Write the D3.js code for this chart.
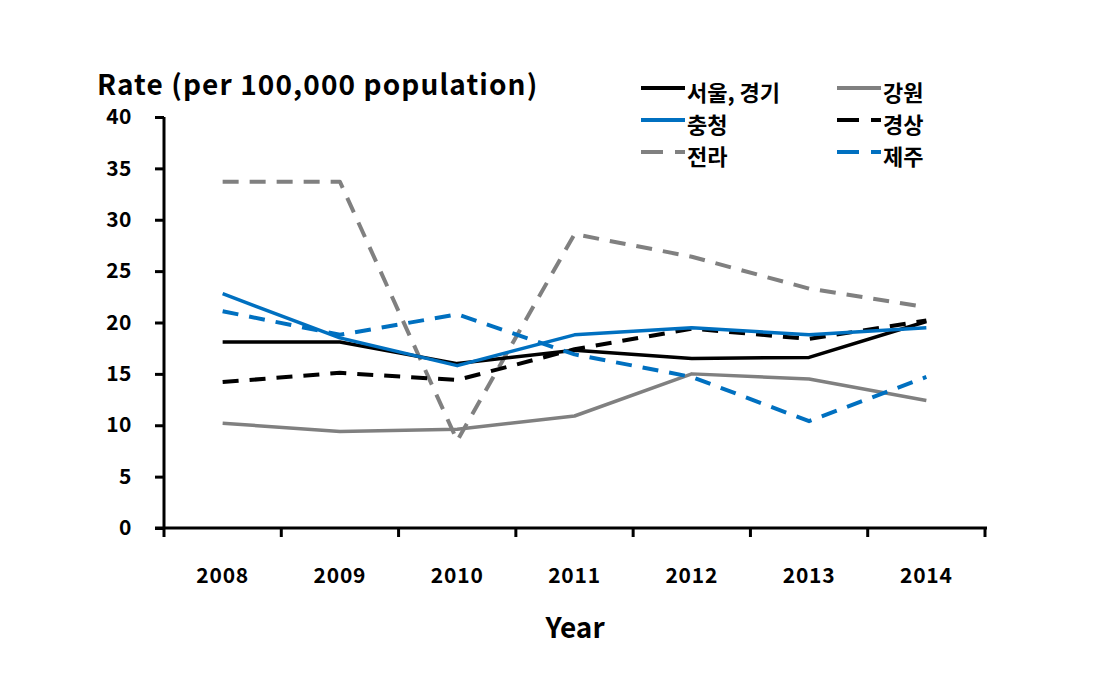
<!DOCTYPE html>
<html><head><meta charset="utf-8">
<script src="https://cdn.jsdelivr.net/npm/d3@7"></script>
<style>body{margin:0;background:#fff}svg{display:block}text{font-family:"Noto Sans CJK KR","Noto Sans",sans-serif;font-weight:bold}</style>
</head><body>
<svg id="c" width="1096" height="678"></svg>
<script>
const years = ["2008","2009","2010","2011","2012","2013","2014"];
const yTicks = [0,5,10,15,20,25,30,35,40];
const seoul   = [18.1,18.1,16.0,17.3,16.5,16.6,20.1];
const gangwon = [10.2,9.4,9.6,10.9,15.0,14.5,12.4];
const chung   = [22.8,18.5,15.8,18.8,19.5,18.8,19.5];
const gyeong  = [14.2,15.1,14.4,17.4,19.4,18.4,20.2];
const jeolla  = [33.7,33.7,8.5,28.6,26.4,23.3,21.5];
const jeju    = [21.1,18.8,20.8,16.9,14.7,10.4,14.7];
const seriesNames = ["서울, 경기","강원","충청","경상","전라","제주"];

const series = [
  {name:seriesNames[0], v:seoul,   color:"#000000", dash:null},
  {name:seriesNames[1], v:gangwon, color:"#808080", dash:null},
  {name:seriesNames[2], v:chung,   color:"#0070C0", dash:null},
  {name:seriesNames[3], v:gyeong,  color:"#000000", dash:"16,11"},
  {name:seriesNames[4], v:jeolla,  color:"#808080", dash:"16,11"},
  {name:seriesNames[5], v:jeju,    color:"#0070C0", dash:"16,11"}
];

const svg = d3.select("#c");
const x0 = 164, x1 = 985, yTop = 117, yBot = 528;
const x = d3.scaleBand().domain(years).range([x0, x1]);
const y = d3.scaleLinear().domain([0,40]).range([yBot, yTop]);

// y axis
const ya = svg.append("g").attr("transform",`translate(${x0},0)`)
  .call(d3.axisLeft(y).tickValues(yTicks).tickSize(9).tickPadding(23));
ya.select(".domain").attr("stroke","#000").attr("stroke-width",3).attr("d",`M0,${yTop}V${yBot}`);
ya.selectAll(".tick line").attr("stroke","#000").attr("stroke-width",3);
ya.selectAll(".tick text").attr("font-size",21).attr("fill","#000").attr("letter-spacing",0.5);

// x axis
const xa = svg.append("g").attr("transform",`translate(0,${yBot})`)
  .call(d3.axisBottom(x).tickSize(0).tickPadding(40));
xa.select(".domain").attr("stroke","#000").attr("stroke-width",3).attr("d",`M${x0-9},0H${x1+2}`);
xa.selectAll(".tick text").attr("font-size",21).attr("fill","#000").attr("letter-spacing",0.8);
const bounds = years.map(d=>x(d)).concat([x1]);
xa.selectAll("line.sep").data(bounds).enter().append("line").attr("class","sep")
  .attr("x1",d=>d).attr("x2",d=>d).attr("y1",0).attr("y2",9)
  .attr("stroke","#000").attr("stroke-width",3);

// lines
const line = d3.line().x((d,i)=>x(years[i])+x.bandwidth()/2).y(d=>y(d));
const order = [4,1,3,0,5,2];
order.forEach(k=>{
  const s = series[k];
  svg.append("path").attr("d",line(s.v)).attr("fill","none")
    .attr("stroke",s.color).attr("stroke-width",s.dash?4:3.5)
    .attr("stroke-dasharray",s.dash).attr("stroke-linejoin","round");
});

// titles
svg.append("text").attr("x",97).attr("y",95).attr("font-size",28).attr("fill","#000")
  .attr("letter-spacing",1.1).text("Rate (per 100,000 population)");
svg.append("text").attr("x",575).attr("y",638).attr("text-anchor","middle").attr("font-size",28).attr("fill","#000")
  .text("Year");

// legend
const lx = [641, 837], ly = [88, 120, 152];
series.forEach((s,i)=>{
  const col = i%2, row = Math.floor(i/2);
  const g = svg.append("g").attr("transform",`translate(${lx[col]},${ly[row]})`);
  g.append("line").attr("x1",0).attr("x2",44).attr("y1",0).attr("y2",0)
    .attr("stroke",s.color).attr("stroke-width",4).attr("stroke-dasharray",s.dash?"22,12":null);
  g.append("text").attr("x",46).attr("y",13).attr("font-size",22).attr("fill","#000").text(s.name);
});
</script>
</body></html>
